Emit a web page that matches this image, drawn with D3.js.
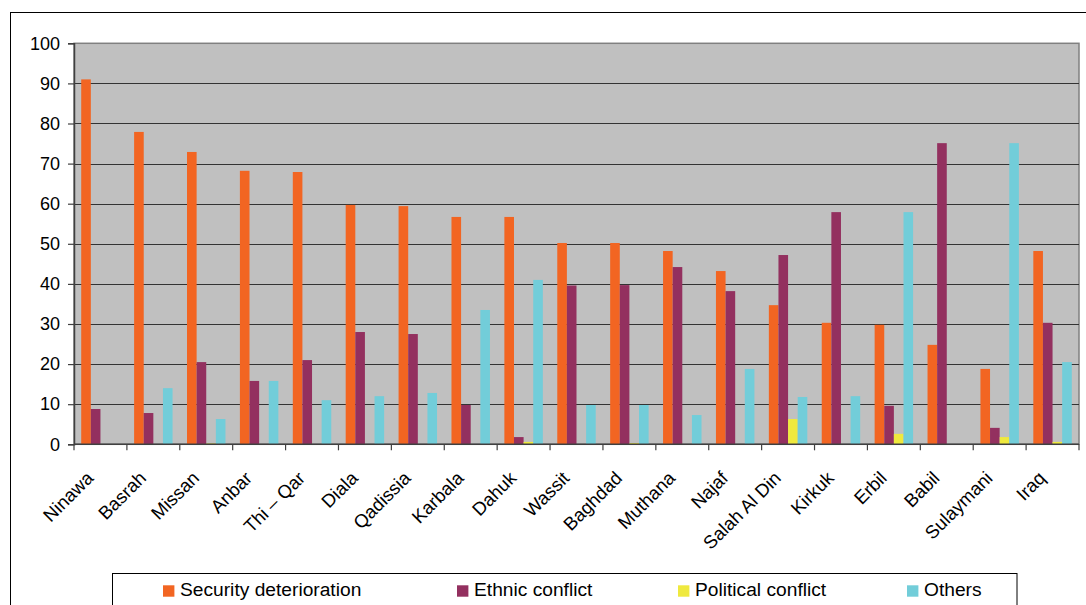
<!DOCTYPE html>
<html>
<head>
<meta charset="utf-8">
<script src="https://cdn.jsdelivr.net/npm/d3@7"></script>
<style>
  html, body { margin: 0; padding: 0; background: #fff; }
  svg { display: block; font-family: "Liberation Sans", Arial, sans-serif; }
</style>
</head>
<body>
<svg id="chart" width="1086" height="605"></svg>
<script>
const categories = ["Ninawa","Basrah","Missan","Anbar","Thi – Qar","Diala","Qadissia","Karbala","Dahuk","Wassit","Baghdad","Muthana","Najaf","Salah Al Din","Kirkuk","Erbil","Babil","Sulaymani","Iraq"];
const seriesNames = ["Security deterioration","Ethnic conflict","Political conflict","Others"];
const securityDeterioration = [91.0,77.9,72.9,68.2,67.9,59.7,59.4,56.7,56.7,50.2,50.2,48.2,43.2,34.7,30.3,29.8,24.8,18.8,48.2];
const ethnicConflict        = [8.8,7.8,20.5,15.8,21.0,28.0,27.5,9.8,1.8,39.6,39.7,44.2,38.2,47.2,57.9,9.6,75.1,4.1,30.3];
const politicalConflict     = [0,0,0.2,0,0,0,0,0,0.6,0,0.3,0,0,6.3,0,2.6,0,1.8,0.6];
const others                = [0,14.0,6.3,15.8,11.0,12.0,12.8,33.5,41.0,9.8,9.8,7.3,18.8,11.8,12.0,57.9,0,75.1,20.5];
const yTicks = [0,10,20,30,40,50,60,70,80,90,100];
const colors = ["#F26522","#93305F","#EFE93E","#72CDD9"];

const seriesValues = [securityDeterioration, ethnicConflict, politicalConflict, others];

const svg = d3.select("#chart");

// outer chart border
svg.append("rect").attr("x", 10.5).attr("y", 12.5).attr("width", 1100).attr("height", 700)
  .attr("fill", "#fff").attr("stroke", "#000").attr("stroke-width", 1);

const plot = {left: 74, right: 1079, top: 43.3, bottom: 444.3};

const x = d3.scaleBand().domain(categories).range([plot.left, plot.right]).padding(0);
const y = d3.scaleLinear().domain([0, 100]).range([plot.bottom, plot.top]);

// Excel-like gap width 150%
const bw = x.bandwidth();
const barW = bw / 5.5;
const sub = d3.scaleBand().domain(d3.range(4)).range([0.75 * barW, 0.75 * barW + 4 * barW]).padding(0);

// plot background
svg.append("rect").attr("x", plot.left).attr("y", plot.top)
  .attr("width", plot.right - plot.left).attr("height", plot.bottom - plot.top)
  .attr("fill", "#C0C0C0").attr("stroke", "#808080").attr("stroke-width", 1.5);

// gridlines
svg.append("g").selectAll("line").data(yTicks.filter(t => t > 0 && t < 100)).join("line")
  .attr("x1", plot.left).attr("x2", plot.right)
  .attr("y1", d => Math.round(y(d)) + 0.5).attr("y2", d => Math.round(y(d)) + 0.5)
  .attr("stroke", "#333").attr("stroke-width", 1.2);

// bars
const groups = svg.append("g").selectAll("g").data(categories).join("g")
  .attr("transform", d => `translate(${x(d)},0)`);
groups.selectAll("rect").data((d, i) => seriesValues.map((s, k) => ({k, v: s[i]}))).join("rect")
  .attr("x", d => sub(d.k))
  .attr("width", sub.bandwidth())
  .attr("y", d => y(d.v))
  .attr("height", d => y(0) - y(d.v))
  .attr("fill", d => colors[d.k]);

// y axis
const yAxis = d3.axisLeft(y).tickValues(yTicks).tickSize(6).tickPadding(8).tickFormat(d3.format("d"));
const gy = svg.append("g").attr("transform", `translate(${plot.left},0)`).call(yAxis);
gy.select(".domain").attr("stroke", "#404040").attr("stroke-width", 1.5);
gy.selectAll(".tick line").attr("stroke", "#404040").attr("stroke-width", 1.2);
gy.selectAll(".tick text").attr("font-size", 18).attr("fill", "#000")
  .attr("font-family", "Liberation Sans, Arial, sans-serif");

// x axis line and ticks at category boundaries
const gx = svg.append("g");
gx.append("line").attr("x1", plot.left).attr("x2", plot.right)
  .attr("y1", plot.bottom).attr("y2", plot.bottom)
  .attr("stroke", "#404040").attr("stroke-width", 1.5);
const bounds = categories.map(c => x(c)).concat([plot.right]);
gx.selectAll("line.tk").data(bounds).join("line").attr("class", "tk")
  .attr("x1", d => d).attr("x2", d => d)
  .attr("y1", plot.bottom).attr("y2", plot.bottom + 6)
  .attr("stroke", "#404040").attr("stroke-width", 1.2);

// rotated category labels
gx.selectAll("text").data(categories).join("text")
  .attr("transform", d => `translate(${x(d) + bw / 2 - 6},${plot.bottom + 35}) rotate(-45)`)
  .attr("text-anchor", "end")
  .attr("font-size", 18.5)
  .attr("fill", "#000")
  .text(d => d);

// legend
const legend = svg.append("g");
legend.append("rect").attr("x", 112.5).attr("y", 573.5).attr("width", 904.5).attr("height", 60)
  .attr("fill", "#fff").attr("stroke", "#000").attr("stroke-width", 1);
const legendX = [163, 457, 678, 907];
const li = legend.selectAll("g").data(seriesNames).join("g")
  .attr("transform", (d, i) => `translate(${legendX[i]},585.3)`);
li.append("rect").attr("width", 11.4).attr("height", 11.4).attr("fill", (d, i) => colors[i]);
li.append("text").attr("x", 17).attr("y", 10.2).attr("font-size", 19.2).attr("fill", "#000").text(d => d);
</script>
</body>
</html>
